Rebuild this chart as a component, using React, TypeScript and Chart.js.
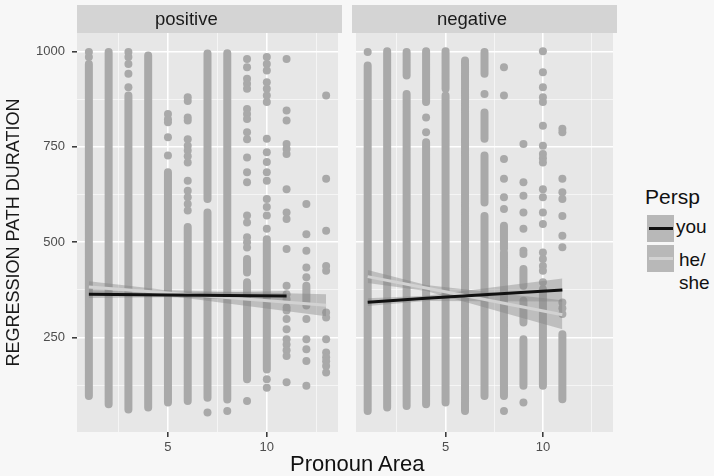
import React, { useEffect, useRef } from "react";
import { Chart, registerables } from "chart.js";
Chart.register(...registerables);

// ---- axes ----
const yMin = 3;
const yMax = 1048;
const xMin = 0.4;
const xMax = 13.6;
const yMajor = [250, 500, 750, 1000];
const yMinor = [125, 375, 625, 875];
const xMajor = [5, 10];
const xMinor = [2.5, 7.5, 12.5];

// ---- positive panel ----
const posColumns = [1, 2, 3, 4, 5, 6, 7, 8, 9, 10, 11, 12, 13];
// dense runs of points [low, high]
const posRanges: number[][][] = [
  [[97, 967]],
  [[76, 998]],
  [[62, 884]],
  [[67, 989]],
  [[80, 683]],
  [[84, 540]],
  [[93, 578], [613, 994]],
  [[88, 995]],
  [[141, 395], [421, 456]],
  [[167, 508]],
  [],
  [[334, 386]],
  [],
];
// isolated points
const posSingles: number[][] = [
  [998, 985],
  [],
  [998, 985, 967, 941, 906],
  [],
  [836, 822, 814, 775, 727],
  [880, 870, 827, 819, 770, 753, 740, 725, 709, 661, 635, 618, 600, 583],
  [54],
  [58],
  [980, 958, 928, 915, 902, 849, 836, 823, 788, 770, 722, 683, 657, 570, 552, 513, 500, 486, 84],
  [985, 967, 950, 919, 902, 884, 867, 771, 736, 710, 683, 661, 613, 592, 570, 535, 141, 119],
  [980, 845, 819, 757, 744, 731, 639, 578, 561, 482, 386, 364, 351, 329, 321, 299, 272, 246, 232, 217, 202, 133],
  [600, 521, 478, 434, 408, 299, 246, 220, 189, 124],
  [884, 666, 530, 438, 425, 316, 303, 246, 211, 199, 188, 176, 159],
];
const posYouX = [1, 5, 11];
const posYouFit = [364, 362, 359];
const posYouUpper = [374, 368, 372];
const posYouLower = [354, 356, 346];
const posSheX = [1, 5, 13];
const posSheFit = [383, 367, 335];
const posSheUpper = [398, 374, 364];
const posSheLower = [368, 360, 306];

// ---- negative panel ----
const negColumns = [1, 2, 3, 4, 5, 6, 7, 8, 9, 10, 11];
const negRanges: number[][][] = [
  [[58, 963]],
  [[67, 1000]],
  [[71, 888], [937, 998]],
  [[76, 762], [867, 1000]],
  [[80, 884], [902, 1000]],
  [[58, 976]],
  [[97, 569], [604, 727], [771, 840], [941, 998]],
  [[97, 473], [482, 543]],
  [[124, 246], [290, 347], [386, 430]],
  [[124, 377]],
  [[89, 259]],
];
const negSingles: number[][] = [
  [998],
  [],
  [],
  [827, 788],
  [],
  [],
  [888],
  [958, 884, 718, 666, 618, 587, 58],
  [757, 657, 622, 578, 535, 478, 469, 80],
  [1000, 945, 906, 880, 867, 805, 753, 731, 720, 709, 639, 618, 578, 548, 473, 456, 438, 425, 395],
  [797, 788, 666, 631, 613, 569, 517, 487, 342, 327, 312],
];
const negYouX = [1, 4, 11];
const negYouFit = [343, 353, 375];
const negYouUpper = [353, 360, 405];
const negYouLower = [333, 346, 345];
const negSheX = [1, 4, 11];
const negSheFit = [410, 380, 310];
const negSheUpper = [427, 388, 348];
const negSheLower = [393, 372, 272];

// ---- styles ----
const FONT = "'Liberation Sans', Arial, Helvetica, sans-serif";
const PAGE_BG = "#f7f7f7";
const PANEL_BG = "#e7e7e7";
const STRIP_BG = "#d4d4d4";
const POINT = "#a9a9a9";
const BAND = "rgba(130,130,130,0.4)";
const YOU_COLOR = "#111111";
const SHE_COLOR = "#d2d2d2";

const toPoints = (cols: number[], vals: number[][]) =>
  cols.flatMap((x, i) => vals[i].map((y) => ({ x, y })));
const toSegments = (cols: number[], ranges: number[][][]) =>
  cols.flatMap((x, i) =>
    ranges[i].flatMap(([lo, hi]) => [
      { x, y: lo },
      { x, y: hi },
      { x, y: null as any },
    ])
  );
const toLine = (xs: number[], ys: number[]) => xs.map((x, i) => ({ x, y: ys[i] }));

const panelBg = {
  id: "panelBg",
  beforeDraw(chart: any) {
    const { ctx, chartArea: a } = chart;
    ctx.save();
    ctx.fillStyle = PANEL_BG;
    ctx.fillRect(a.left, a.top, a.right - a.left, a.bottom - a.top);
    ctx.restore();
  },
};

function buildConfig(p: any, withY: boolean): any {
  const lineBase = { type: "line", pointRadius: 0, pointHoverRadius: 0, tension: 0 };
  return {
    type: "scatter",
    data: {
      datasets: [
        { ...lineBase, data: toLine(p.youX, p.youFit), borderColor: YOU_COLOR, borderWidth: 3, fill: false, order: 1 },
        { ...lineBase, data: toLine(p.sheX, p.sheFit), borderColor: SHE_COLOR, borderWidth: 3, fill: false, order: 2 },
        { ...lineBase, data: toLine(p.youX, p.youUpper), borderWidth: 0, borderColor: "transparent", backgroundColor: BAND, fill: "+1", order: 3 },
        { ...lineBase, data: toLine(p.youX, p.youLower), borderWidth: 0, borderColor: "transparent", fill: false, order: 3 },
        { ...lineBase, data: toLine(p.sheX, p.sheUpper), borderWidth: 0, borderColor: "transparent", backgroundColor: BAND, fill: "+1", order: 4 },
        { ...lineBase, data: toLine(p.sheX, p.sheLower), borderWidth: 0, borderColor: "transparent", fill: false, order: 4 },
        {
          ...lineBase,
          data: toSegments(p.cols, p.ranges),
          borderColor: POINT,
          borderWidth: 8,
          borderCapStyle: "round",
          spanGaps: false,
          fill: false,
          order: 10,
        },
        {
          type: "scatter",
          data: toPoints(p.cols, p.singles),
          backgroundColor: POINT,
          pointRadius: 4,
          pointBorderWidth: 0,
          borderWidth: 0,
          order: 10,
        },
      ],
    },
    options: {
      responsive: false,
      animation: false,
      devicePixelRatio: 1,
      events: [],
      layout: { padding: { top: 33, left: 0, right: 0, bottom: 0 } },
      plugins: { legend: { display: false }, tooltip: { enabled: false }, title: { display: false } },
      scales: {
        x: {
          type: "linear",
          min: xMin,
          max: xMax,
          afterBuildTicks: (s: any) => {
            s.ticks = [...xMinor, ...xMajor].sort((a, b) => a - b).map((value) => ({ value }));
          },
          afterFit: (s: any) => {
            s.height = 44;
          },
          border: { display: false },
          grid: {
            color: (c: any) => (xMajor.includes(c.tick?.value) ? "#ffffff" : "rgba(255,255,255,0.75)"),
            lineWidth: (c: any) => (xMajor.includes(c.tick?.value) ? 1.6 : 0.8),
            drawTicks: true,
            tickLength: 5,
            tickWidth: 1.5,
            tickColor: (c: any) => (xMajor.includes(c.tick?.value) ? "#333333" : "rgba(0,0,0,0)"),
          },
          ticks: {
            autoSkip: false,
            maxRotation: 0,
            padding: 3,
            color: "#4d4d4d",
            font: { family: FONT, size: 13 },
            callback: (v: any) => (xMajor.includes(v) ? String(v) : ""),
          },
        },
        y: {
          type: "linear",
          min: yMin,
          max: yMax,
          afterBuildTicks: (s: any) => {
            s.ticks = [...yMinor, ...yMajor].sort((a, b) => a - b).map((value) => ({ value }));
          },
          afterFit: (s: any) => {
            s.width = withY ? 77 : 0;
          },
          border: { display: false },
          grid: {
            color: (c: any) => (yMajor.includes(c.tick?.value) ? "#ffffff" : "rgba(255,255,255,0.75)"),
            lineWidth: (c: any) => (yMajor.includes(c.tick?.value) ? 1.6 : 0.8),
            drawTicks: withY,
            tickLength: 5,
            tickWidth: 1.5,
            tickColor: (c: any) => (yMajor.includes(c.tick?.value) ? "#333333" : "rgba(0,0,0,0)"),
          },
          ticks: {
            display: withY,
            autoSkip: false,
            padding: 7,
            color: "#4d4d4d",
            font: { family: FONT, size: 13 },
            callback: (v: any) => (yMajor.includes(v) ? String(v) : ""),
          },
          title: {
            display: withY,
            text: "REGRESSION PATH DURATION",
            color: "#1a1a1a",
            font: { family: FONT, size: 18 },
            padding: { top: 3, bottom: 0 },
          },
        },
      },
    },
    plugins: [panelBg],
  };
}

const posPanel = {
  cols: posColumns,
  ranges: posRanges,
  singles: posSingles,
  youX: posYouX,
  youFit: posYouFit,
  youUpper: posYouUpper,
  youLower: posYouLower,
  sheX: posSheX,
  sheFit: posSheFit,
  sheUpper: posSheUpper,
  sheLower: posSheLower,
};
const negPanel = {
  cols: negColumns,
  ranges: negRanges,
  singles: negSingles,
  youX: negYouX,
  youFit: negYouFit,
  youUpper: negYouUpper,
  youLower: negYouLower,
  sheX: negSheX,
  sheFit: negSheFit,
  sheUpper: negSheUpper,
  sheLower: negSheLower,
};

const abs = (o: any): React.CSSProperties => ({ position: "absolute", ...o });

export default function App() {
  const refA = useRef<HTMLCanvasElement>(null);
  const refB = useRef<HTMLCanvasElement>(null);

  useEffect(() => {
    const a = new Chart(refA.current as HTMLCanvasElement, buildConfig(posPanel, true));
    const b = new Chart(refB.current as HTMLCanvasElement, buildConfig(negPanel, false));
    return () => {
      a.destroy();
      b.destroy();
    };
  }, []);

  const text = (extra: any): React.CSSProperties => ({
    position: "absolute",
    fontFamily: FONT,
    color: "#1a1a1a",
    whiteSpace: "nowrap",
    ...extra,
  });

  return (
    <div style={abs({ position: "fixed", left: 0, top: 0, width: 714, height: 476, background: PAGE_BG, overflow: "hidden" })}>
      <canvas ref={refA} width={342} height={476} style={abs({ left: 0, top: 0, width: 342, height: 476 })} />
      <canvas ref={refB} width={265} height={476} style={abs({ left: 352, top: 0, width: 265, height: 476 })} />

      {/* facet strips */}
      <div style={abs({ left: 77, top: 5, width: 265, height: 28, background: STRIP_BG })} />
      <div style={abs({ left: 352, top: 5, width: 265, height: 28, background: STRIP_BG })} />
      <div style={text({ left: 155, top: 5, height: 28, lineHeight: "28px", fontSize: 18.5 })}>positive</div>
      <div style={text({ left: 437, top: 5, height: 28, lineHeight: "28px", fontSize: 18.5 })}>negative</div>

      {/* x title */}
      <div style={text({ left: 290, top: 453, fontSize: 22, lineHeight: "22px", color: "#111" })}>Pronoun Area</div>

      {/* legend */}
      <div style={text({ left: 645, top: 186, fontSize: 21, lineHeight: "21px", color: "#111" })}>Persp</div>
      <div style={abs({ left: 647, top: 215, width: 27, height: 27, background: "#b8b8b8" })} />
      <div style={abs({ left: 649, top: 227, width: 24, height: 3, background: YOU_COLOR })} />
      <div style={abs({ left: 647, top: 245, width: 27, height: 27, background: "#b8b8b8" })} />
      <div style={abs({ left: 649, top: 257, width: 24, height: 3, background: SHE_COLOR })} />
      <div style={text({ left: 676, top: 217, fontSize: 19, lineHeight: "19px", color: "#111" })}>you</div>
      <div style={text({ left: 679, top: 248, fontSize: 19, lineHeight: "23px", color: "#111" })}>
        he/
        <br />
        she
      </div>
    </div>
  );
}
